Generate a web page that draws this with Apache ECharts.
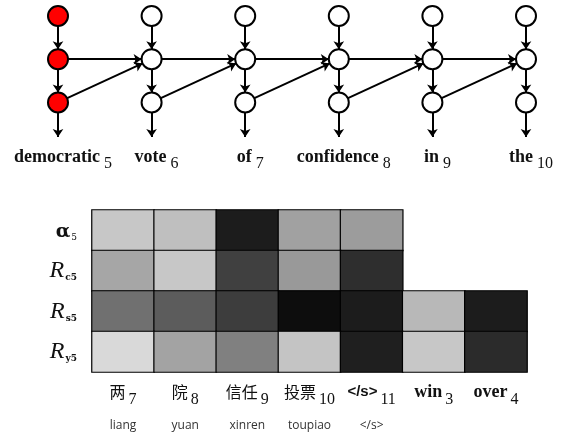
<!DOCTYPE html>
<html>
<head>
<meta charset="utf-8">
<script src="https://cdn.jsdelivr.net/npm/echarts@6/dist/echarts.min.js"></script>
<style>
  html, body { margin: 0; padding: 0; background: #ffffff; }
  #chart { width: 566px; height: 439px; }
</style>
</head>
<body>
<div id="chart"></div>
<script>
// ---- Decoder unrolled over target positions ----
const targetWords = ['democratic', 'vote', 'of', 'confidence', 'in', 'the'];
const targetIndex = ['5', '6', '7', '8', '9', '10'];
const activeStep = 0;              // column whose states are highlighted
const stateLayers = [0, 1, 2];     // input state, hidden state, readout state

// ---- Source side attention / relevance at step 5 ----
const sourceWords = ['两', '院', '信任', '投票', '</s>', 'win', 'over'];
const sourceIndex = ['7', '8', '9', '10', '11', '3', '4'];
const sourcePinyin = ['liang', 'yuan', 'xinren', 'toupiao', '</s>', '', ''];
const rowKeys = ['alpha', 'Rc', 'Rs', 'Ry'];
const alpha5 = [0.22, 0.25, 0.89, 0.37, 0.39];
const rc5 = [0.35, 0.22, 0.75, 0.40, 0.82];
const rs5 = [0.56, 0.64, 0.76, 0.95, 0.89, 0.28, 0.89];
const ry5 = [0.15, 0.36, 0.50, 0.23, 0.88, 0.22, 0.83];

// length of the output stem below the readout state, in layer units
const STEM = 0.8;

// ---- build graph nodes and links ----
const nodes = [];
const links = [];
const perCol = stateLayers.length + 1;
targetWords.forEach((w, c) => {
  stateLayers.forEach(l => {
    nodes.push({
      name: 'n' + c + '_' + l,
      value: [c, l],
      symbolSize: 20,
      itemStyle: { color: c === activeStep ? '#ff0000' : '#ffffff', borderColor: '#000', borderWidth: 2 }
    });
  });
  // end point of the output arrow
  nodes.push({
    name: 'o' + c,
    value: [c, stateLayers[stateLayers.length - 1] + STEM],
    symbolSize: 0,
    itemStyle: { opacity: 0 }
  });
  const base = c * perCol;
  links.push({ source: base, target: base + 1 });
  links.push({ source: base + 1, target: base + 2 });
  links.push({ source: base + 2, target: base + 3 });
  if (c < targetWords.length - 1) {
    const next = (c + 1) * perCol;
    links.push({ source: base + 1, target: next + 1 });
    links.push({ source: base + 2, target: next + 1 });
  }
});

// ---- heatmap cells ----
const rows = [alpha5, rc5, rs5, ry5];
const cells = [];
rows.forEach((row, r) => row.forEach((v, c) => cells.push([c, r, v])));

const rowLabel = {
  alpha: '{ga|α}{gs|5}',
  Rc: '{R|R}{rs|c5}',
  Rs: '{R|R}{rs|s5}',
  Ry: '{R|R}{rs|y5}'
};

const chart = echarts.init(document.getElementById('chart'), null, { renderer: 'canvas' });

chart.setOption({
  animation: false,
  backgroundColor: '#ffffff',
  grid: [
    { left: 58, right: 40, top: 16, height: 121 },
    { left: 92, top: 210, width: 435, height: 162 }
  ],
  xAxis: [
    {
      gridIndex: 0,
      type: 'category',
      data: targetWords,
      boundaryGap: false,
      axisLine: { show: false },
      axisTick: { show: false },
      splitLine: { show: false },
      axisLabel: {
        interval: 0,
        margin: 10,
        formatter: (v, i) =>
          '{p| }{w|' + targetWords[i] + '}{s|' + targetIndex[i] + '}',
        rich: {
          p: { width: 10, fontSize: 10, lineHeight: 20 },
          w: { fontFamily: 'Liberation Serif', fontWeight: 'bold', fontSize: 18, color: '#111', lineHeight: 20 },
          s: { fontFamily: 'Liberation Serif', fontSize: 16, color: '#111', lineHeight: 16, padding: [14, 0, 0, 4] }
        }
      }
    },
    {
      gridIndex: 1,
      type: 'category',
      data: sourceWords,
      axisLine: { show: false },
      axisTick: { show: false },
      splitLine: { show: false },
      axisLabel: {
        interval: 0,
        margin: 9,
        formatter: (v, i) => {
          const word = sourceWords[i];
          const kind = /[\u4e00-\u9fff]/.test(word) ? 'zh' : (word === '</s>' ? 'eos' : 'en');
          return '{' + kind + '|' + word + '}{sub|' + sourceIndex[i] + '}\n{py|' + (sourcePinyin[i] || ' ') + '}';
        },
        rich: {
          zh: { fontFamily: 'Noto Sans CJK SC', fontSize: 16, color: '#111', lineHeight: 22 },
          eos: { fontFamily: 'Liberation Sans', fontWeight: 'bold', fontSize: 15, color: '#111', lineHeight: 22 },
          en: { fontFamily: 'Liberation Serif', fontWeight: 'bold', fontSize: 18, color: '#111', lineHeight: 22 },
          sub: { fontFamily: 'Liberation Serif', fontSize: 16, color: '#111', lineHeight: 16, padding: [16, 0, 0, 3] },
          py: { fontFamily: 'Open Sans', fontSize: 12, color: '#333', lineHeight: 14, padding: [31, 0, 0, 0] }
        }
      }
    }
  ],
  yAxis: [
    {
      gridIndex: 0,
      type: 'value',
      min: 0,
      max: stateLayers[stateLayers.length - 1] + STEM,
      inverse: true,
      show: false
    },
    {
      gridIndex: 1,
      type: 'category',
      data: rowKeys,
      inverse: true,
      axisLine: { show: false },
      axisTick: { show: false },
      splitLine: { show: false },
      axisLabel: {
        margin: 15,
        formatter: v => rowLabel[v],
        rich: {
          ga: { fontFamily: 'DejaVu Serif', fontWeight: 'bold', fontSize: 19, color: '#111', lineHeight: 22, padding: [4, 0, 0, 0] },
          gs: { fontFamily: 'DejaVu Serif', fontSize: 9, color: '#111', lineHeight: 10, padding: [14, 0, 0, 1] },
          R: { fontFamily: 'Liberation Serif', fontStyle: 'italic', fontSize: 24, color: '#111', lineHeight: 26 },
          rs: { fontFamily: 'DejaVu Serif', fontWeight: 'bold', fontSize: 9, color: '#111', lineHeight: 10, padding: [14, 0, 0, 1] }
        }
      }
    }
  ],
  visualMap: {
    show: false,
    type: 'continuous',
    seriesIndex: 1,
    dimension: 2,
    min: 0,
    max: 1,
    inRange: { color: ['#ffffff', '#000000'] }
  },
  series: [
    {
      type: 'graph',
      coordinateSystem: 'cartesian2d',
      xAxisIndex: 0,
      yAxisIndex: 0,
      symbol: 'circle',
      data: nodes,
      links: links,
      edgeSymbol: ['none', 'arrow'],
      edgeSymbolSize: [0, 8],
      lineStyle: { color: '#000', width: 2, opacity: 1, curveness: 0 },
      label: { show: false },
      emphasis: { disabled: true },
      silent: true
    },
    {
      type: 'heatmap',
      xAxisIndex: 1,
      yAxisIndex: 1,
      data: cells,
      itemStyle: { borderColor: '#000', borderWidth: 1.2 },
      emphasis: { disabled: true },
      silent: true
    }
  ]
});
</script>
</body>
</html>
